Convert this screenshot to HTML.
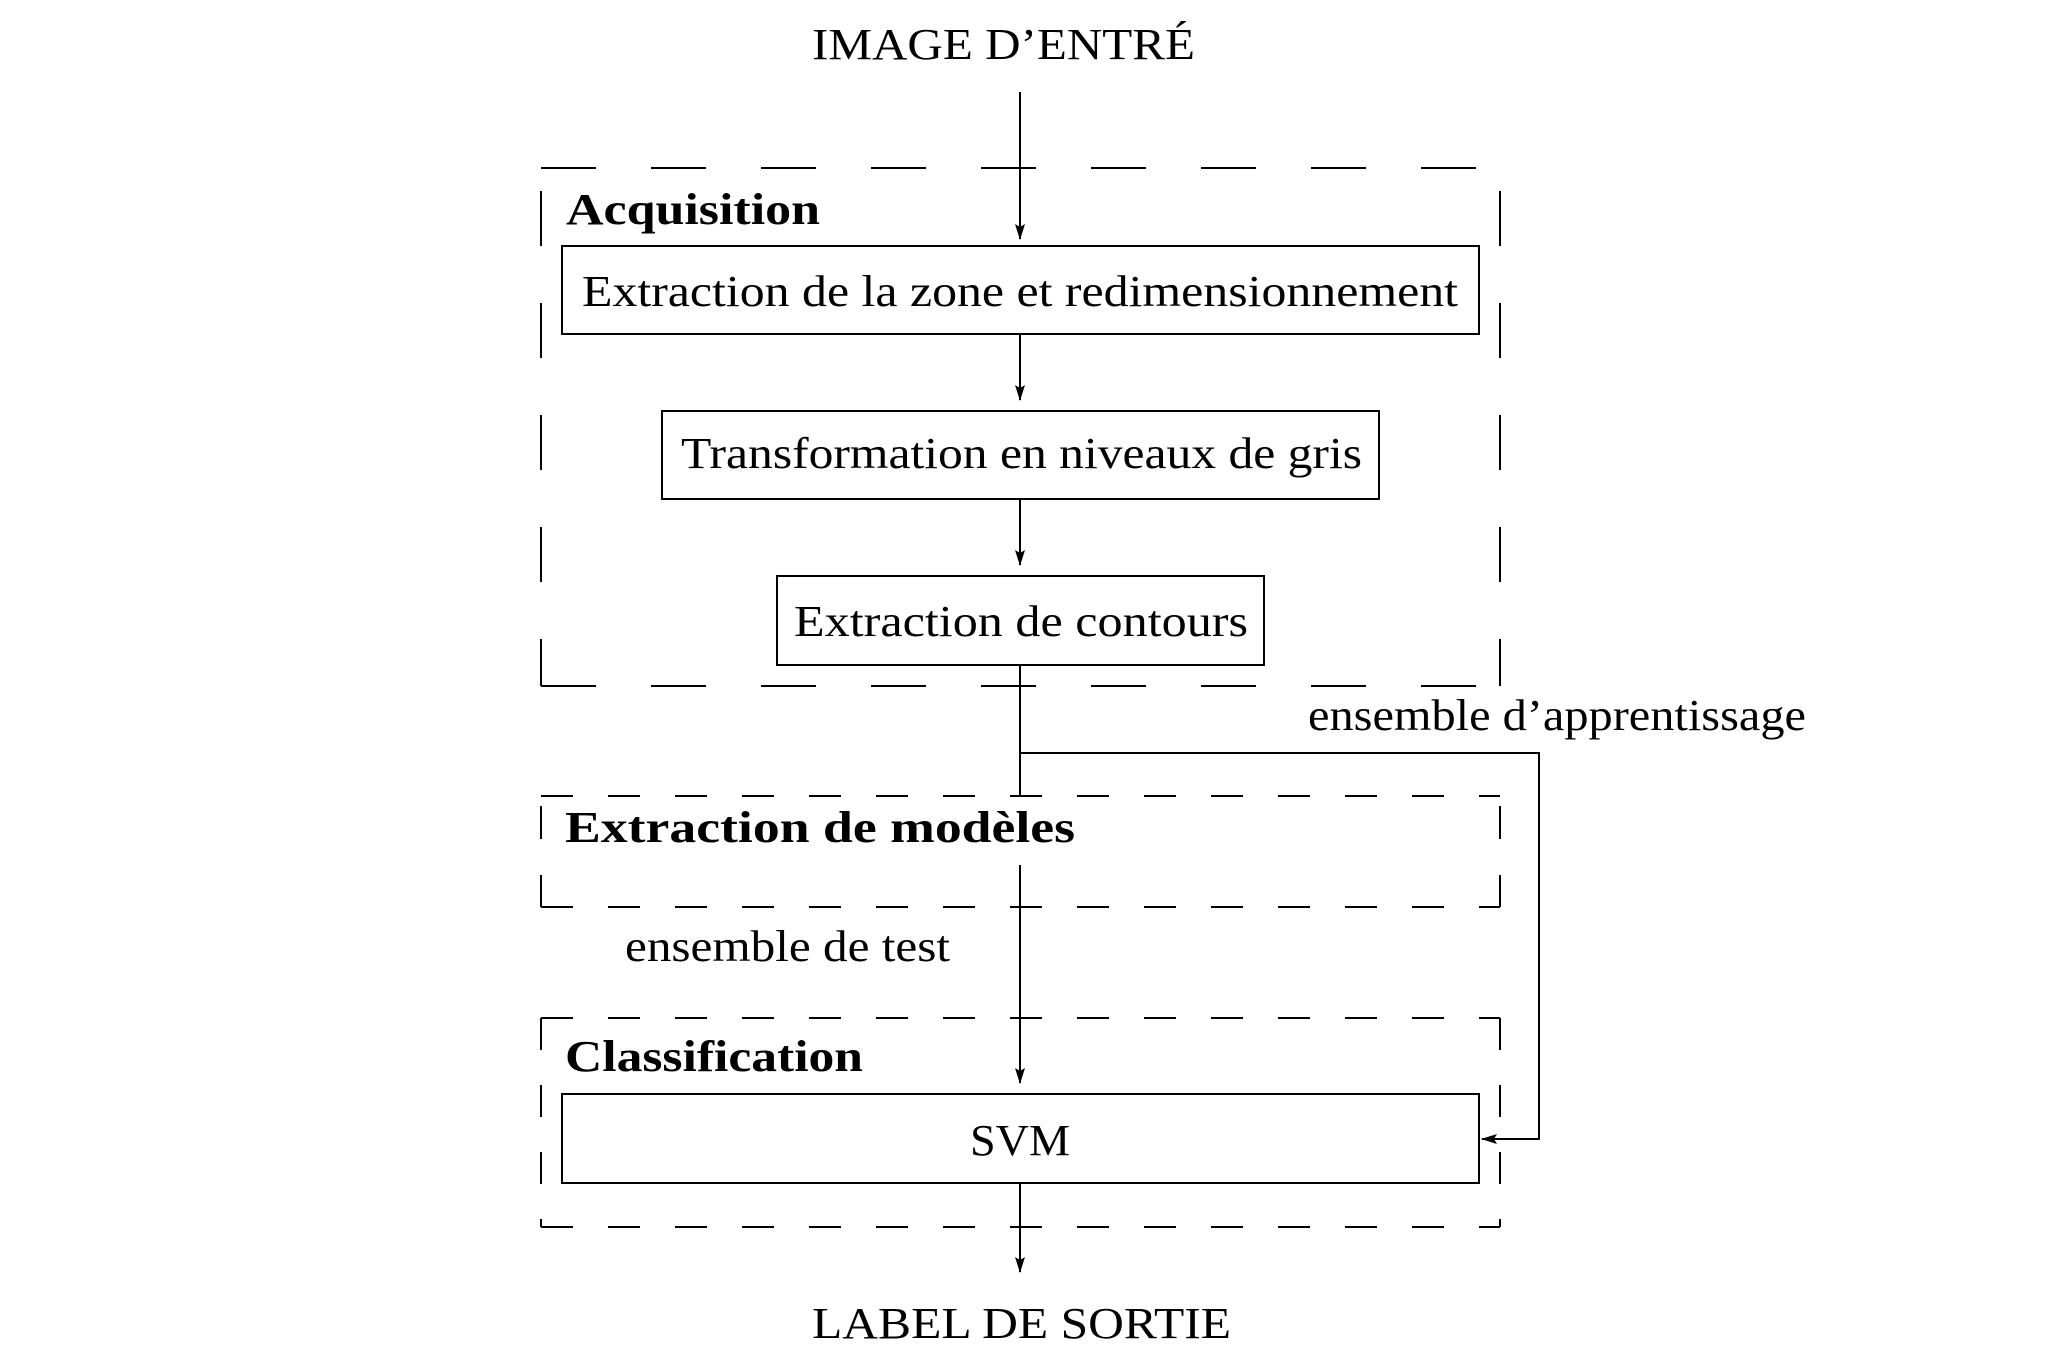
<!DOCTYPE html>
<html><head><meta charset="utf-8"><style>
html,body{margin:0;padding:0;background:#fff;}
svg{display:block;}
text{font-family:"Liberation Serif",serif;fill:#000;}
.b{font-weight:bold;}
</style></head><body>
<svg width="2054" height="1370" viewBox="0 0 2054 1370" xmlns="http://www.w3.org/2000/svg">
<defs>
<marker id="ah" markerWidth="16" markerHeight="10" refX="15" refY="5" orient="auto" markerUnits="userSpaceOnUse">
<path d="M0,0 L16,5 L0,10 L3,5 Z" fill="#000"/>
</marker>
</defs>
<g stroke="#000" stroke-width="2" fill="none">
<!-- Acquisition dashed -->
<line x1="541" y1="168" x2="1500" y2="168" stroke-dasharray="55 55"/>
<line x1="541" y1="686" x2="1500" y2="686" stroke-dasharray="55 55"/>
<line x1="541" y1="191" x2="541" y2="686" stroke-dasharray="55 57"/>
<line x1="1500" y1="191" x2="1500" y2="686" stroke-dasharray="55 57"/>
<!-- Extraction de modeles -->
<line x1="541" y1="796" x2="1500" y2="796" stroke-dasharray="32 35"/>
<line x1="541" y1="907" x2="1500" y2="907" stroke-dasharray="32 35"/>
<line x1="541" y1="806" x2="541" y2="907" stroke-dasharray="33 36"/>
<line x1="1500" y1="806" x2="1500" y2="907" stroke-dasharray="33 36"/>
<!-- Classification -->
<line x1="541" y1="1018" x2="1500" y2="1018" stroke-dasharray="32 35"/>
<line x1="541" y1="1227" x2="1500" y2="1227" stroke-dasharray="32 35"/>
<line x1="541" y1="1018" x2="541" y2="1227" stroke-dasharray="32 35"/>
<line x1="1500" y1="1018" x2="1500" y2="1227" stroke-dasharray="32 35"/>
<!-- boxes -->
<rect x="562" y="246" width="917" height="88"/>
<rect x="662" y="411" width="717" height="88"/>
<rect x="777" y="576" width="487" height="89"/>
<rect x="562" y="1094" width="917" height="89"/>
<!-- arrows -->
<line x1="1020" y1="92" x2="1020" y2="239" marker-end="url(#ah)"/>
<line x1="1020" y1="334" x2="1020" y2="400" marker-end="url(#ah)"/>
<line x1="1020" y1="499" x2="1020" y2="565" marker-end="url(#ah)"/>
<line x1="1020" y1="665" x2="1020" y2="796"/>
<line x1="1020" y1="865" x2="1020" y2="1083" marker-end="url(#ah)"/>
<line x1="1020" y1="1183" x2="1020" y2="1272" marker-end="url(#ah)"/>
<polyline points="1020,753 1539,753 1539,1139 1482,1139" marker-end="url(#ah)"/>
</g>
<g font-size="44">
<text x="812" y="59" textLength="383" lengthAdjust="spacingAndGlyphs">IMAGE D’ENTRÉ</text>
<text x="582" y="306" textLength="876" lengthAdjust="spacingAndGlyphs">Extraction de la zone et redimensionnement</text>
<text x="681" y="468" textLength="681" lengthAdjust="spacingAndGlyphs">Transformation en niveaux de gris</text>
<text x="794" y="636" textLength="454" lengthAdjust="spacingAndGlyphs">Extraction de contours</text>
<text x="1308" y="730" textLength="498" lengthAdjust="spacingAndGlyphs">ensemble d’apprentissage</text>
<text x="625" y="961" textLength="325" lengthAdjust="spacingAndGlyphs">ensemble de test</text>
<text x="970" y="1155" textLength="100" lengthAdjust="spacingAndGlyphs">SVM</text>
<text x="812" y="1338" textLength="419" lengthAdjust="spacingAndGlyphs">LABEL DE SORTIE</text>
<text class="b" x="566" y="224" textLength="254" lengthAdjust="spacingAndGlyphs">Acquisition</text>
<text class="b" x="565" y="842" textLength="510" lengthAdjust="spacingAndGlyphs">Extraction de modèles</text>
<text class="b" x="565" y="1071" textLength="298" lengthAdjust="spacingAndGlyphs">Classification</text>
</g>
</svg>
</body></html>
